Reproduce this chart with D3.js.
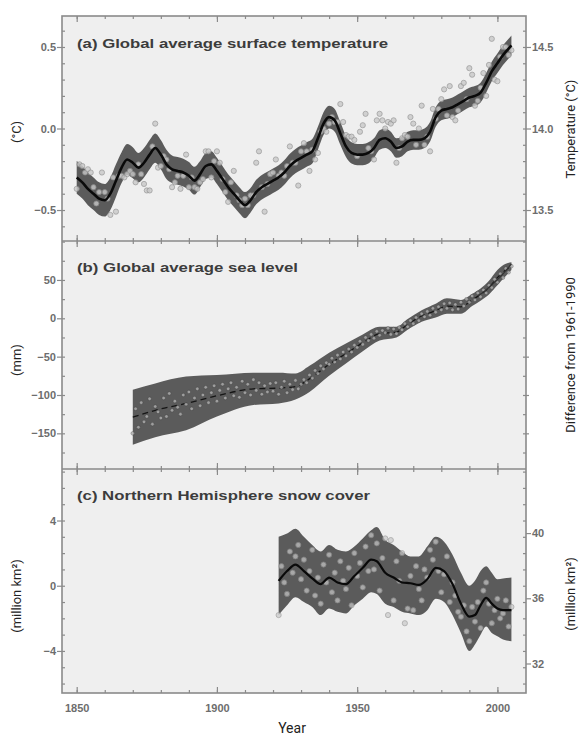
<!DOCTYPE html>
<html><head><meta charset="utf-8">
<script src="https://cdn.jsdelivr.net/npm/d3@7"></script>
<style>
html,body{margin:0;padding:0;background:#fff;}
svg text{font-family:"Liberation Sans",Arial,sans-serif;}
</style></head>
<body><svg id="chart" width="581" height="740"></svg>
<script>
// ---------- DATA ----------
// (a) annual global surface temperature anomalies (°C), 1850-2005
const tempStart = 1850;
const tempAnnual = [-0.37,-0.22,-0.23,-0.27,-0.25,-0.27,-0.36,-0.46,-0.39,-0.27,
 -0.39,-0.43,-0.53,-0.30,-0.51,-0.29,-0.29,-0.30,-0.28,-0.26,
 -0.28,-0.33,-0.22,-0.28,-0.34,-0.38,-0.38,-0.11,0.03,-0.24,
 -0.23,-0.17,-0.19,-0.25,-0.36,-0.33,-0.29,-0.37,-0.29,-0.16,
 -0.36,-0.30,-0.36,-0.37,-0.33,-0.31,-0.14,-0.14,-0.30,-0.20,
 -0.14,-0.21,-0.31,-0.39,-0.45,-0.33,-0.26,-0.41,-0.44,-0.47,
 -0.43,-0.47,-0.41,-0.41,-0.21,-0.14,-0.36,-0.51,-0.34,-0.28,
 -0.27,-0.19,-0.29,-0.27,-0.29,-0.23,-0.11,-0.21,-0.21,-0.35,
 -0.14,-0.09,-0.14,-0.26,-0.13,-0.19,-0.15,-0.02,0.00,-0.02,
 0.03,0.07,0.04,0.04,0.15,0.04,-0.04,-0.05,-0.05,-0.07,
 -0.17,-0.02,0.02,0.09,-0.12,-0.14,-0.19,0.05,0.09,0.05,
 0.00,0.04,0.03,0.05,-0.21,-0.12,-0.06,-0.04,-0.05,0.07,
 0.03,-0.10,0.00,0.14,-0.10,-0.05,-0.14,0.12,0.06,0.12,
 0.18,0.24,0.08,0.26,0.07,0.05,0.11,0.26,0.28,0.18,
 0.37,0.33,0.14,0.17,0.25,0.34,0.20,0.39,0.55,0.30,
 0.29,0.44,0.50,0.50,0.45,0.48];
// smoothed decadal curve and band half-width (°C)
const tempSmoothYears = [1850,1852,1854,1856,1858,1860,1862,1864,1866,1868,1870,1872,1874,1876,1878,1880,1882,1884,1886,1888,1890,1892,1894,1896,1898,1900,1902,1904,1906,1908,1910,1912,1914,1916,1918,1920,1922,1924,1926,1928,1930,1932,1934,1936,1938,1940,1942,1944,1946,1948,1950,1952,1954,1956,1958,1960,1962,1964,1966,1968,1970,1972,1974,1976,1978,1980,1982,1984,1986,1988,1990,1992,1994,1996,1998,2000,2002,2004,2005];
const tempSmooth = [-0.30,-0.33,-0.37,-0.40,-0.43,-0.44,-0.40,-0.32,-0.24,-0.19,-0.21,-0.24,-0.21,-0.16,-0.12,-0.16,-0.22,-0.25,-0.26,-0.27,-0.29,-0.32,-0.28,-0.23,-0.22,-0.26,-0.31,-0.36,-0.40,-0.44,-0.47,-0.44,-0.39,-0.36,-0.34,-0.32,-0.30,-0.27,-0.23,-0.20,-0.18,-0.16,-0.14,-0.06,0.03,0.07,0.05,-0.03,-0.11,-0.15,-0.16,-0.16,-0.15,-0.12,-0.07,-0.06,-0.08,-0.12,-0.11,-0.08,-0.07,-0.07,-0.06,-0.02,0.07,0.11,0.12,0.13,0.15,0.17,0.19,0.20,0.22,0.28,0.35,0.40,0.45,0.49,0.51];
const tempHalfWidth = [0.10,0.10,0.10,0.10,0.10,0.10,0.10,0.10,0.095,0.095,0.095,0.09,0.09,0.09,0.09,0.09,0.09,0.085,0.085,0.085,0.085,0.085,0.08,0.08,0.08,0.08,0.08,0.08,0.08,0.08,0.08,0.075,0.075,0.075,0.075,0.075,0.075,0.075,0.075,0.075,0.075,0.075,0.075,0.07,0.07,0.07,0.07,0.07,0.065,0.065,0.065,0.065,0.065,0.06,0.06,0.06,0.06,0.06,0.06,0.06,0.06,0.06,0.06,0.06,0.06,0.06,0.06,0.06,0.06,0.06,0.06,0.06,0.06,0.06,0.06,0.06,0.06,0.06,0.06];

// (b) global average sea level (mm), tide gauges 1870-2005
const seaStart = 1870;
const seaAnnual = [-150,-118,-142,-110,-135,-128,-105,-138,-115,-122,
 -130,-104,-128,-98,-120,-108,-116,-125,-100,-112,
 -96,-118,-104,-92,-114,-100,-90,-110,-97,-88,
 -108,-94,-86,-104,-92,-84,-101,-90,-103,-82,
 -97,-86,-100,-80,-94,-84,-99,-88,-96,-85,
 -95,-84,-99,-90,-82,-97,-86,-93,-81,-92,
 -86,-80,-84,-74,-78,-68,-72,-62,-66,-58,
 -60,-52,-57,-48,-53,-44,-49,-40,-44,-35,
 -38,-30,-34,-25,-29,-21,-26,-17,-22,-16,
 -19,-13,-21,-14,-20,-12,-15,-7,-11,-3,
 -7,1,-3,6,2,9,4,13,8,15,
 11,19,13,20,11,18,12,21,16,25,
 21,29,24,33,28,37,33,43,40,51,
 47,58,53,65,60,68];
const seaBandYears = [1870,1878,1889,1900,1913,1922,1928,1933,1940,1946,1952,1958,1964,1968,1973,1978,1982,1987,1991,1994,1997,2000,2003,2005];
const seaCenter = [-129,-120,-111,-101,-92,-91,-89,-79,-60,-46,-32,-20,-18,-8,3,10,16,15,24,31,40,53,63,68];
const seaHalfWidth = [36,35,35,27,21,20,17,17,15,13,11,9,7,7,7.5,9,10,9,8,8,9,10,8,5];
// satellite altimetry (mm)
const satYears = [1993,1996,1999,2002,2005];
const satLevel = [29,37,47,58,71];

// (c) Northern Hemisphere snow cover (million km²), 1922-2005
const snowStart = 1922;
const snowAnnual = [-1.8,1.2,0.2,-0.5,2.1,0.8,1.8,2.5,0.4,1.6,
 -0.3,0.9,2.2,-0.6,0.5,-1.1,1.3,0.2,1.9,-0.4,
 0.8,-0.9,1.5,0.3,-0.2,1.1,-1.2,2.0,0.6,1.4,
 -0.1,2.4,0.9,3.1,1.0,2.6,-0.3,1.7,2.9,-1.8,
 2.8,-0.9,1.5,0.3,2.0,-2.3,-1.4,0.6,-1.5,1.2,
 -0.2,-0.9,1.0,0.5,2.2,1.6,2.7,0.9,-0.4,0.7,
 1.8,-1.0,0.2,-0.6,-1.6,-1.9,-1.2,-2.8,-3.4,-1.3,
 -2.2,-1.0,-2.6,-0.3,0.2,-1.1,-2.3,-1.5,-0.8,-2.0,
 -1.7,-0.9,-2.5,-1.3];
const snowBandYears = [1922,1925,1928,1931,1934,1937,1940,1943,1946,1949,1952,1955,1957,1960,1963,1966,1969,1972,1975,1978,1981,1984,1987,1990,1992,1994,1996,1998,2000,2002,2005];
const snowSmooth = [0.3,0.9,1.3,0.9,0.45,0.1,0.5,0.2,0.1,0.6,1.1,1.6,1.5,0.8,0.5,0.2,0.15,0.05,0.4,1.1,0.9,0.1,-1.1,-1.9,-1.8,-1.2,-0.75,-1.1,-1.4,-1.5,-1.5];
const snowHigh = [3.0,3.2,3.5,3.0,2.5,2.1,2.5,2.2,2.1,2.4,2.9,3.4,3.6,2.8,2.5,2.1,1.8,1.8,2.4,3.0,2.7,1.9,0.8,0.0,0.3,0.9,1.2,0.8,0.4,0.45,0.5];
const snowLow = [-1.8,-1.2,-0.7,-1.0,-1.3,-1.8,-1.4,-1.6,-1.7,-1.2,-0.8,-0.4,-0.5,-1.1,-1.3,-1.6,-1.7,-1.8,-1.5,-0.8,-1.0,-1.8,-2.9,-4.0,-3.6,-3.0,-2.5,-2.9,-3.1,-3.3,-3.4];

// axis tick labels
const xTickYears = [1850,1900,1950,2000];
const tempTicks = [-0.5,0.0,0.5];
const tempAbsTicks = [13.5,14.0,14.5];
const seaTicks = [-150,-100,-50,0,50];
const snowTicks = [-4,0,4];
const snowAbsTicks = [32,36,40];

// ---------- LAYOUT ----------
const svg = d3.select("#chart");
const L = 62, R = 526;
const x = d3.scaleLinear().domain([1844.76, 2010.2]).range([L, R]);
const panels = [
  {top:16, bottom:241, domain:[-0.69,0.69]},
  {top:241, bottom:469, domain:[-196.5,100.8]},
  {top:469, bottom:693, domain:[-6.58,7.16]}
];
panels.forEach(p => p.y = d3.scaleLinear().domain(p.domain).range([p.bottom, p.top]));
const [pa, pb, pc] = panels;

const BAND = "#5b5b5b", DOT_FILL = "#c9c9c9", DOT_STROKE = "#8e8e8e", FRAME = "#8a8a8a", TICKTXT = "#6d6d6d";

// plot background
svg.append("rect").attr("x", L).attr("y", pa.top).attr("width", R - L).attr("height", pc.bottom - pa.top).attr("fill", "#efefef");

const clip = svg.append("defs");
panels.forEach((p, i) => {
  clip.append("clipPath").attr("id", "clip" + i).append("rect")
    .attr("x", L).attr("y", p.top).attr("width", R - L).attr("height", p.bottom - p.top);
});

// ---------- PANEL A ----------
const ga = svg.append("g").attr("clip-path", "url(#clip0)");
const tsData = tempSmoothYears.map((yr, i) => ({yr, v: tempSmooth[i], h: tempHalfWidth[i]}));
ga.append("path").datum(tsData)
  .attr("d", d3.area().curve(d3.curveMonotoneX).x(d => x(d.yr)).y0(d => pa.y(d.v - d.h)).y1(d => pa.y(d.v + d.h)))
  .attr("fill", BAND);
ga.selectAll("circle").data(tempAnnual).join("circle")
  .attr("cx", (d, i) => x(tempStart + i)).attr("cy", d => pa.y(d)).attr("r", 2.6)
  .attr("fill", DOT_FILL).attr("stroke", DOT_STROKE).attr("stroke-width", 0.8).attr("opacity", 0.8);
ga.append("path").datum(tsData)
  .attr("d", d3.line().curve(d3.curveMonotoneX).x(d => x(d.yr)).y(d => pa.y(d.v)))
  .attr("fill", "none").attr("stroke", "#0a0a0a").attr("stroke-width", 2.6);

// ---------- PANEL B ----------
const gb = svg.append("g").attr("clip-path", "url(#clip1)");
const sbData = seaBandYears.map((yr, i) => ({yr, v: seaCenter[i], h: seaHalfWidth[i]}));
gb.append("path").datum(sbData)
  .attr("d", d3.area().curve(d3.curveMonotoneX).x(d => x(d.yr)).y0(d => pb.y(d.v - d.h)).y1(d => pb.y(d.v + d.h)))
  .attr("fill", BAND);
gb.append("path").datum(sbData)
  .attr("d", d3.line().curve(d3.curveMonotoneX).x(d => x(d.yr)).y(d => pb.y(d.v)))
  .attr("fill", "none").attr("stroke", "#151515").attr("stroke-width", 1.3).attr("stroke-dasharray", "6,4");
gb.selectAll("circle").data(seaAnnual).join("circle")
  .attr("cx", (d, i) => x(seaStart + i)).attr("cy", d => pb.y(d)).attr("r", 1.8)
  .attr("fill", "#b5b5b5").attr("stroke", "#404040").attr("stroke-width", 0.5).attr("opacity", 0.75);
gb.append("path").datum(satYears.map((yr, i) => ({yr, v: satLevel[i]})))
  .attr("d", d3.line().curve(d3.curveMonotoneX).x(d => x(d.yr)).y(d => pb.y(d.v)))
  .attr("fill", "none").attr("stroke", "#333").attr("stroke-width", 1.2);

// ---------- PANEL C ----------
const gc = svg.append("g").attr("clip-path", "url(#clip2)");
const scData = snowBandYears.map((yr, i) => ({yr, v: snowSmooth[i], lo: snowLow[i], hi: snowHigh[i]}));
gc.append("path").datum(scData)
  .attr("d", d3.area().curve(d3.curveMonotoneX).x(d => x(d.yr)).y0(d => pc.y(d.lo)).y1(d => pc.y(d.hi)))
  .attr("fill", BAND);
gc.selectAll("circle").data(snowAnnual).join("circle")
  .attr("cx", (d, i) => x(snowStart + i)).attr("cy", d => pc.y(d)).attr("r", 2.6)
  .attr("fill", DOT_FILL).attr("stroke", DOT_STROKE).attr("stroke-width", 0.8).attr("opacity", 0.7);
gc.append("path").datum(scData)
  .attr("d", d3.line().curve(d3.curveMonotoneX).x(d => x(d.yr)).y(d => pc.y(d.v)))
  .attr("fill", "none").attr("stroke", "#0a0a0a").attr("stroke-width", 2.2);

// ---------- AXES ----------
function styleAxis(g, labels) {
  g.select(".domain").remove();
  g.selectAll(".tick line").attr("stroke", FRAME).attr("stroke-width", 1.2);
  g.selectAll(".tick text").attr("fill", TICKTXT).attr("font-size", 11).attr("font-weight", "bold")
    .style("font-family", '"Liberation Sans", Arial, sans-serif');
  if (!labels) g.selectAll(".tick text").remove();
}
const minorYears = d3.range(1850, 2010, 10);
panels.forEach((p, i) => {
  const gtMinor = svg.append("g").attr("transform", `translate(0,${p.top})`)
    .call(d3.axisBottom(x).tickValues(minorYears).tickSize(3).tickFormat(""));
  styleAxis(gtMinor, false);
  const gtMajor = svg.append("g").attr("transform", `translate(0,${p.top})`)
    .call(d3.axisBottom(x).tickValues(xTickYears).tickSize(6).tickFormat(""));
  styleAxis(gtMajor, false);
  const gbMinor = svg.append("g").attr("transform", `translate(0,${p.bottom})`)
    .call(d3.axisTop(x).tickValues(minorYears).tickSize(3).tickFormat(""));
  styleAxis(gbMinor, false);
  const gbMajor = svg.append("g").attr("transform", `translate(0,${p.bottom})`)
    .call(d3.axisTop(x).tickValues(xTickYears).tickSize(6).tickFormat(""));
  styleAxis(gbMajor, false);
});
// bottom year labels
const gx = svg.append("g").attr("transform", `translate(0,${pc.bottom})`)
  .call(d3.axisBottom(x).tickValues(xTickYears).tickSize(0).tickPadding(11).tickFormat(d3.format("d")));
styleAxis(gx, true);

// y axes
function yAxes(p, majors, minorStep, fmt, absTicks, absOffset, absFmt) {
  const minors = d3.range(Math.ceil(p.domain[0] / minorStep) * minorStep, p.domain[1], minorStep);
  const gm = svg.append("g").attr("transform", `translate(${L},0)`)
    .call(d3.axisRight(p.y).tickValues(minors).tickSize(3).tickFormat(""));
  styleAxis(gm, false);
  const gM = svg.append("g").attr("transform", `translate(${L},0)`)
    .call(d3.axisLeft(p.y).tickValues(majors).tickSize(5).tickPadding(1).tickFormat(fmt));
  styleAxis(gM, true);
  const rm = svg.append("g").attr("transform", `translate(${R},0)`)
    .call(d3.axisLeft(p.y).tickValues(minors).tickSize(3).tickFormat(""));
  styleAxis(rm, false);
  if (absTicks) {
    const rM = svg.append("g").attr("transform", `translate(${R},0)`)
      .call(d3.axisRight(d3.scaleLinear().domain(p.domain.map(v => v + absOffset)).range(p.y.range()))
        .tickValues(absTicks).tickSize(5).tickPadding(1).tickFormat(absFmt));
    styleAxis(rM, true);
  } else {
    const rM = svg.append("g").attr("transform", `translate(${R},0)`)
      .call(d3.axisRight(p.y).tickValues(majors).tickSize(3).tickFormat(""));
    styleAxis(rM, false);
  }
}
yAxes(pa, tempTicks, 0.1, d => d === 0 ? "0.0" : d3.format(".1f")(d).replace("-", "\u2212"), tempAbsTicks, 14.0, d3.format(".1f"));
yAxes(pb, seaTicks, 25, d => d3.format("d")(d).replace("-", "\u2212"), null);
yAxes(pc, snowTicks, 1, d => d3.format("d")(d).replace("-", "\u2212"), snowAbsTicks, 36.77, d3.format("d"));

// frame
svg.append("rect").attr("x", L).attr("y", pa.top).attr("width", R - L).attr("height", pc.bottom - pa.top)
  .attr("fill", "none").attr("stroke", FRAME).attr("stroke-width", 1.6);
[pa.bottom, pb.bottom].forEach(yy => svg.append("line").attr("x1", L).attr("x2", R).attr("y1", yy).attr("y2", yy)
  .attr("stroke", FRAME).attr("stroke-width", 1.4));

// panel titles
const titles = [
  {t: "(a) Global average surface temperature", y: 48, w: 311},
  {t: "(b) Global average sea level", y: 272, w: 221},
  {t: "(c) Northern Hemisphere snow cover", y: 500, w: 293}
];
titles.forEach(d => svg.append("text").attr("x", 77).attr("y", d.y).text(d.t)
  .attr("font-size", 13.5).attr("font-weight", "bold").attr("fill", "#3c3c3c")
  .attr("textLength", d.w).attr("lengthAdjust", "spacingAndGlyphs"));

// axis titles
function vlabel(txt, cx, cy, size) {
  svg.append("text").attr("transform", `translate(${cx},${cy}) rotate(-90)`)
    .attr("text-anchor", "middle").attr("dominant-baseline", "middle")
    .style("font-family", "Roboto, sans-serif").attr("font-size", size).attr("fill", "#222").text(txt);
}
vlabel("(°C)", 18, 132, 13);
vlabel("(mm)", 18, 360, 13);
vlabel("(million km²)", 18, 596, 13);
vlabel("Temperature (°C)", 572, 129, 13);
vlabel("Difference from 1961-1990", 572, 355, 13);
vlabel("(million km²)", 572, 594, 13);
svg.append("text").attr("x", 292).attr("y", 733).attr("text-anchor", "middle")
  .style("font-family", "Roboto, sans-serif").attr("font-size", 14).attr("fill", "#222").text("Year");
</script>
</body></html>
